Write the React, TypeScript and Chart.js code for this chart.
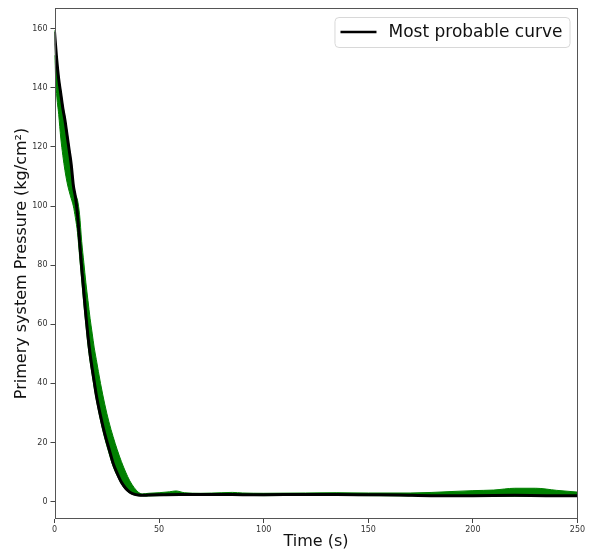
import React, { useEffect, useRef } from "react";
import { Chart, registerables } from "chart.js";

Chart.register(...registerables);

const probTime = [0, 1, 2, 3, 4, 5, 6, 7, 8, 9, 10, 11, 12, 13, 14, 15, 16, 17, 18, 19, 20, 22, 24, 26, 28, 30, 32, 34, 36, 38, 40, 42, 45, 50, 60, 70, 80, 90, 100, 120, 135, 150, 165, 180, 200, 220, 235, 250];
const probPressure = [159, 150, 143, 138, 133, 129, 124, 119, 114, 107, 103, 97, 88, 79, 71, 63, 56, 50, 45, 40.5, 36, 29, 23, 18, 13, 9.5, 6.5, 4.5, 3.2, 2.5, 2.2, 2.1, 2.2, 2.3, 2.4, 2.4, 2.4, 2.3, 2.3, 2.4, 2.4, 2.3, 2.2, 2.0, 2.0, 2.1, 2.0, 2.0];

const bandTime = [0, 1, 2, 3, 4, 5, 6, 7, 8, 9, 10, 11, 12, 13, 14, 15, 16, 17, 18, 19, 20, 22, 24, 26, 28, 30, 32, 34, 36, 38, 40, 42, 45, 50, 55, 58, 62, 70, 80, 85, 90, 100, 120, 135, 150, 170, 190, 200, 210, 220, 230, 240, 250];
const bandUpper = [159.5, 151, 144, 139, 134, 130, 125, 120, 115, 108, 104, 102, 97, 88, 81, 74, 68, 62, 57, 52, 48, 40, 33, 27, 22, 17.5, 13.5, 10, 7, 4.8, 3.2, 2.6, 2.8, 3.0, 3.3, 3.6, 3.0, 2.8, 3.0, 3.1, 2.9, 2.8, 2.9, 3.0, 2.9, 2.9, 3.4, 3.7, 3.9, 4.5, 4.5, 3.8, 3.2];
const bandLower = [151, 138, 131, 123, 117, 112, 108, 105, 102.5, 100, 96, 91, 83, 75, 67, 60, 53, 47.5, 43, 38.5, 34.5, 27.5, 21.5, 16.5, 12, 8.7, 6, 4, 2.9, 2.3, 2.0, 1.9, 1.9, 2.0, 2.1, 2.1, 2.1, 2.1, 2.1, 2.1, 2.1, 2.0, 2.1, 2.1, 2.0, 1.9, 1.8, 1.8, 1.8, 1.8, 1.8, 1.8, 1.8];

const xTicks = [0, 50, 100, 150, 200, 250];
const yTicks = [0, 20, 40, 60, 80, 100, 120, 140, 160];
const legendLabel = "Most probable curve";
const xTitle = "Time (s)";
const yTitle = "Primery system Pressure (kg/cm²)";

const pts = (xs: number[], ys: number[]) => xs.map((x, i) => ({ x, y: ys[i] }));

const framePlugin = {
  id: "frameLegend",
  afterDraw(chart: any) {
    const { ctx, chartArea } = chart;
    ctx.save();
    ctx.strokeStyle = "#555";
    ctx.lineWidth = 1;
    ctx.strokeRect(
      Math.round(chartArea.left) + 0.5,
      Math.round(chartArea.top) + 0.5,
      Math.round(chartArea.right - chartArea.left) - 1,
      Math.round(chartArea.bottom - chartArea.top) - 1
    );
    ctx.font = "17px 'DejaVu Sans'";
    const tw = ctx.measureText(legendLabel).width;
    const boxH = 30;
    const boxW = 54 + tw + 7;
    const right = chartArea.right - 8;
    const left = right - boxW;
    const top = chartArea.top + 9;
    ctx.fillStyle = "rgba(255,255,255,0.8)";
    ctx.strokeStyle = "#d8d8d8";
    ctx.beginPath();
    (ctx as any).roundRect(left + 0.5, top + 0.5, boxW, boxH, 4);
    ctx.fill();
    ctx.stroke();
    ctx.strokeStyle = "#000";
    ctx.lineWidth = 2.5;
    ctx.beginPath();
    ctx.moveTo(left + 6, top + boxH / 2);
    ctx.lineTo(left + 42, top + boxH / 2);
    ctx.stroke();
    ctx.fillStyle = "#111";
    ctx.textBaseline = "middle";
    ctx.textAlign = "left";
    ctx.fillText(legendLabel, left + 54, top + boxH / 2 + 1);
    ctx.restore();
  },
};

export default function App() {
  const ref = useRef<HTMLCanvasElement>(null);
  useEffect(() => {
    document.body.style.margin = "0";
    const chart = new Chart(ref.current!, {
      type: "line",
      data: {
        datasets: [
          {
            label: legendLabel,
            data: pts(probTime, probPressure),
            borderColor: "#000",
            borderWidth: 3,
            pointRadius: 0,
            cubicInterpolationMode: "monotone",
            order: 0,
            fill: false,
          },
          {
            label: "upper",
            data: pts(bandTime, bandUpper),
            borderColor: "rgb(0,128,0)",
            backgroundColor: "rgb(0,128,0)",
            borderWidth: 1,
            pointRadius: 0,
            cubicInterpolationMode: "monotone",
            order: 1,
            fill: "+1",
          },
          {
            label: "lower",
            data: pts(bandTime, bandLower),
            borderColor: "rgb(0,128,0)",
            borderWidth: 1,
            pointRadius: 0,
            cubicInterpolationMode: "monotone",
            order: 2,
            fill: false,
          },
        ],
      },
      options: {
        animation: false,
        responsive: false,
        devicePixelRatio: 1,
        layout: { padding: { left: 0, right: 12.5, top: 8, bottom: 0 } },
        plugins: { legend: { display: false }, tooltip: { enabled: false } },
        scales: {
          x: {
            type: "linear",
            min: 0,
            max: 250,
            afterBuildTicks: (s: any) => {
              s.ticks = xTicks.map((v) => ({ value: v }));
            },
            afterFit: (s: any) => {
              s.height = 36;
            },
            grid: { display: true, drawOnChartArea: false, drawTicks: true, tickLength: 4, color: "#444" },
            border: { display: false },
            ticks: { font: { family: "'DejaVu Sans'", size: 8 }, color: "#333", padding: 2, maxRotation: 0 },
            title: {
              display: true,
              text: xTitle,
              font: { family: "'DejaVu Sans'", size: 16, lineHeight: 1.2 },
              color: "#111",
              padding: { top: 0, bottom: 3.5 },
            },
          },
          y: {
            type: "linear",
            min: -5.9,
            max: 167,
            afterBuildTicks: (s: any) => {
              s.ticks = yTicks.map((v) => ({ value: v }));
            },
            afterFit: (s: any) => {
              s.width = 54.5;
            },
            grid: { display: true, drawOnChartArea: false, drawTicks: true, tickLength: 4, color: "#444" },
            border: { display: false },
            ticks: { font: { family: "'DejaVu Sans'", size: 8 }, color: "#333", padding: 3 },
            title: {
              display: true,
              text: yTitle,
              font: { family: "'DejaVu Sans'", size: 16, lineHeight: 1.2 },
              color: "#111",
              padding: { top: 12.5, bottom: 0 },
            },
          },
        },
      },
      plugins: [framePlugin],
    });
    return () => chart.destroy();
  }, []);
  return <canvas ref={ref} width={590} height={555} style={{ display: "block" }} />;
}
